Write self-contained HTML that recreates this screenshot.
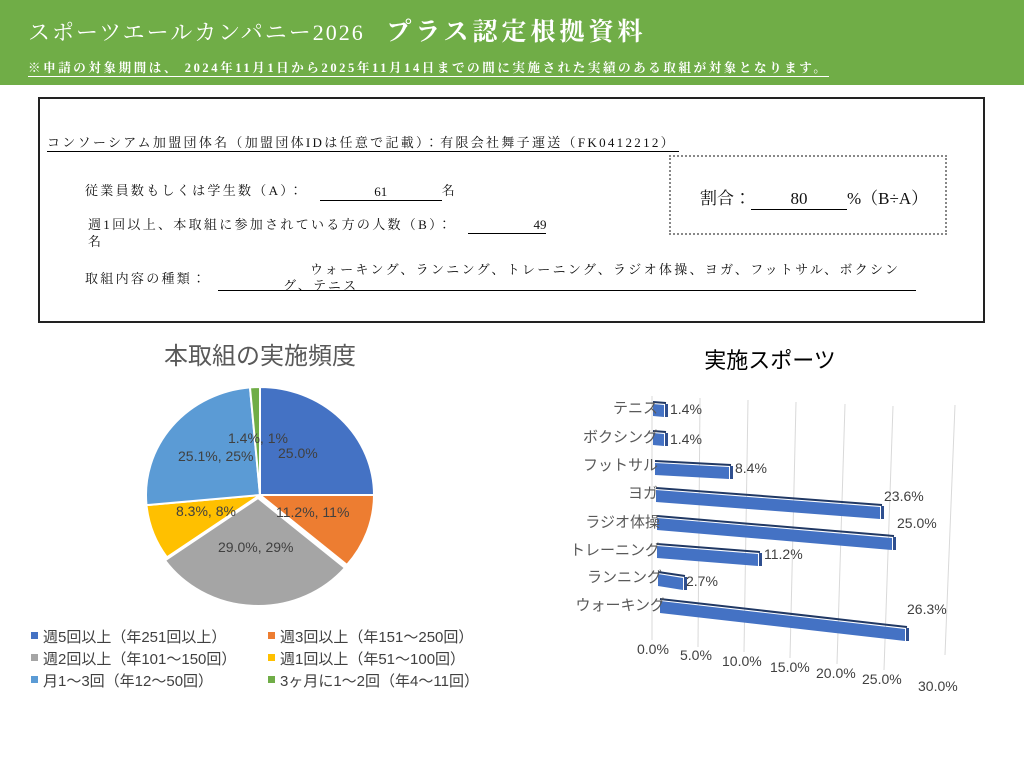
<!DOCTYPE html>
<html><head><meta charset="utf-8"><style>
body{margin:0;width:1024px;height:768px;position:relative;background:#fff;overflow:hidden;font-family:"Liberation Serif","Noto Serif CJK JP",serif;}
.a{position:absolute;white-space:nowrap;}
.hd{position:absolute;left:0;top:0;width:1024px;height:85px;background:#70ad47;}
.m{font-size:13px;color:#111;letter-spacing:2.3px;}
.s{font-family:"Liberation Sans","Noto Sans CJK JP",sans-serif;}
.u{border-bottom:1px solid #000;display:inline-block;letter-spacing:0;}
</style></head><body>
<div class="hd"></div>
<div class="a" style="left:28px;top:12px;font-size:22px;color:#fff;letter-spacing:2px;">スポーツエールカンパニー2026 <span style="font-size:25px;font-weight:bold;margin-left:14px;letter-spacing:4px">プラス認定根拠資料</span></div>
<div class="a" style="left:28px;top:58px;font-size:12.5px;color:#fff;font-weight:bold;border-bottom:1.5px solid #fff;letter-spacing:2.6px;">※申請の対象期間は、 2024年11月1日から2025年11月14日までの間に実施された実績のある取組が対象となります。</div>
<div class="a" style="left:38px;top:97px;width:943px;height:222px;border:2px solid #222;"></div>
<div class="a m" style="left:47px;top:132px;border-bottom:1px solid #000;padding-right:3px">コンソーシアム加盟団体名（加盟団体IDは任意で記載）：有限会社舞子運送（FK0412212）</div>
<div class="a m" style="left:85px;top:180px;">従業員数もしくは学生数（A）：　<span class="u" style="width:122px;text-align:center;position:relative;top:1px">61</span>名</div>
<div class="a m" style="left:88px;top:214px;">週1回以上、本取組に参加されている方の人数（B）：　<span class="u" style="width:78px;text-align:right;">49</span></div>
<div class="a m" style="left:88px;top:231px;">名</div>
<div class="a m" style="left:85px;top:268px;">取組内容の種類：</div>
<div class="a m" style="left:310px;top:259px;">ウォーキング、ランニング、トレーニング、ラジオ体操、ヨガ、フットサル、ボクシン</div>
<div class="a m" style="left:283px;top:275px;">グ、テニス</div>
<div class="a" style="left:218px;top:290px;width:698px;border-top:1px solid #000"></div>
<div class="a" style="left:669px;top:155px;width:274px;height:76px;border:2px dotted #888;"></div>
<div class="a" style="left:700px;top:184px;font-size:17px;color:#111;">割合：<span class="u" style="width:96px;text-align:center">80</span>%（B÷A）</div>

<div class="a s" style="left:150px;top:336px;width:220px;text-align:center;font-size:24px;color:#595959;">本取組の実施頻度</div>
<div class="a s" style="left:660px;top:343px;width:220px;text-align:center;font-size:22px;color:#000;">実施スポーツ</div>

<svg class="a" style="left:0;top:0" width="1024" height="768" id="sv">
<g id="pie" stroke="#fff" stroke-width="2"></g>
<g font-family="Liberation Sans, Noto Sans CJK JP, sans-serif" font-size="14" fill="#404040">
<text x="228" y="443">1.4%, 1%</text>
<text x="278" y="458">25.0%</text>
<text x="178" y="461">25.1%, 25%</text>
<text x="276" y="517">11.2%, 11%</text>
<text x="176" y="516">8.3%, 8%</text>
<text x="218" y="552">29.0%, 29%</text>
</g>
<g stroke="#d9d9d9" stroke-width="1">
<line x1="652" y1="396" x2="652" y2="640"/><line x1="700" y1="398" x2="698" y2="647"/><line x1="748" y1="400" x2="744" y2="652"/><line x1="796" y1="402" x2="790" y2="658"/><line x1="845" y1="404" x2="837" y2="664"/><line x1="893" y1="406" x2="884" y2="670"/><line x1="955" y1="405" x2="945" y2="655"/>
</g>
<g id="bars"></g>
<g font-family="Liberation Sans, Noto Sans CJK JP, sans-serif" font-size="15" fill="#595959" text-anchor="end">
<text x="658" y="413">テニス</text><text x="658" y="442">ボクシング</text><text x="658" y="470">フットサル</text><text x="658" y="498">ヨガ</text><text x="660" y="527">ラジオ体操</text><text x="660" y="555">トレーニング</text><text x="662" y="582">ランニング</text><text x="665" y="610">ウォーキング</text>
</g>
<g font-family="Liberation Sans, sans-serif" font-size="14" fill="#404040">
<text x="670" y="414">1.4%</text><text x="670" y="444">1.4%</text><text x="735" y="473">8.4%</text><text x="884" y="501">23.6%</text><text x="897" y="528">25.0%</text><text x="764" y="559">11.2%</text><text x="686" y="586">2.7%</text><text x="907" y="614">26.3%</text>
<text x="637" y="654">0.0%</text><text x="680" y="660">5.0%</text><text x="722" y="666">10.0%</text><text x="770" y="672">15.0%</text><text x="816" y="678">20.0%</text><text x="862" y="684">25.0%</text><text x="918" y="691">30.0%</text>
</g>
<g font-family="Liberation Sans, Noto Sans CJK JP, sans-serif" font-size="15" fill="#404040">
<rect x="31" y="632" width="7" height="7" fill="#4472c4"/><text x="43" y="642">週5回以上（年251回以上）</text>
<rect x="268" y="632" width="7" height="7" fill="#ed7d31"/><text x="280" y="642">週3回以上（年151～250回）</text>
<rect x="31" y="654" width="7" height="7" fill="#a5a5a5"/><text x="43" y="664">週2回以上（年101～150回）</text>
<rect x="268" y="654" width="7" height="7" fill="#ffc000"/><text x="280" y="664">週1回以上（年51～100回）</text>
<rect x="31" y="676" width="7" height="7" fill="#5b9bd5"/><text x="43" y="686">月1～3回（年12～50回）</text>
<rect x="268" y="676" width="7" height="7" fill="#70ad47"/><text x="280" y="686">3ヶ月に1～2回（年4～11回）</text>
</g>
</svg>
<script>
var cx=260,cy=495,rx=114,ry=108,fr=[0,.25,.362,.652,.735,.986,1],col=["#4472c4","#ed7d31","#a5a5a5","#ffc000","#5b9bd5","#70ad47"],h="";
for(var i=0;i<6;i++){var a0=fr[i]*2*Math.PI,a1=fr[i+1]*2*Math.PI;var ox=0,oy=0;if(i==2){ox=-2;oy=3;}
var x0=cx+ox+rx*Math.sin(a0),y0=cy+oy-ry*Math.cos(a0),x1=cx+ox+rx*Math.sin(a1),y1=cy+oy-ry*Math.cos(a1);
h+='<path fill="'+col[i]+'" d="M'+(cx+ox)+','+(cy+oy)+'L'+x0+','+y0+'A'+rx+','+ry+' 0 '+((a1-a0)>Math.PI?1:0)+' 1 '+x1+','+y1+'Z"/>';}
document.getElementById('pie').innerHTML=h;
var B=[[653,404,664,405],[653,433,664,434],[655,463,729,467],[656,490,880,507],[657,518,892,538],[657,546,758,554],[658,574,683,578],[660,601,905,629]],g="";
B.forEach(function(b){var t=12;g+='<polygon fill="#4472c4" points="'+b[0]+','+b[1]+' '+b[2]+','+b[3]+' '+b[2]+','+(b[3]+t)+' '+b[0]+','+(b[1]+t)+'"/>';
g+='<line x1="'+b[0]+'" y1="'+(b[1]-2)+'" x2="'+(b[2]+2)+'" y2="'+(b[3]-2)+'" stroke="#203864" stroke-width="2"/>';
g+='<rect x="'+(b[2]+1)+'" y="'+(b[3]-1)+'" width="3" height="'+(t+1)+'" fill="#2f4f8f"/>';});
document.getElementById('bars').innerHTML=g;
</script>
</body></html>
